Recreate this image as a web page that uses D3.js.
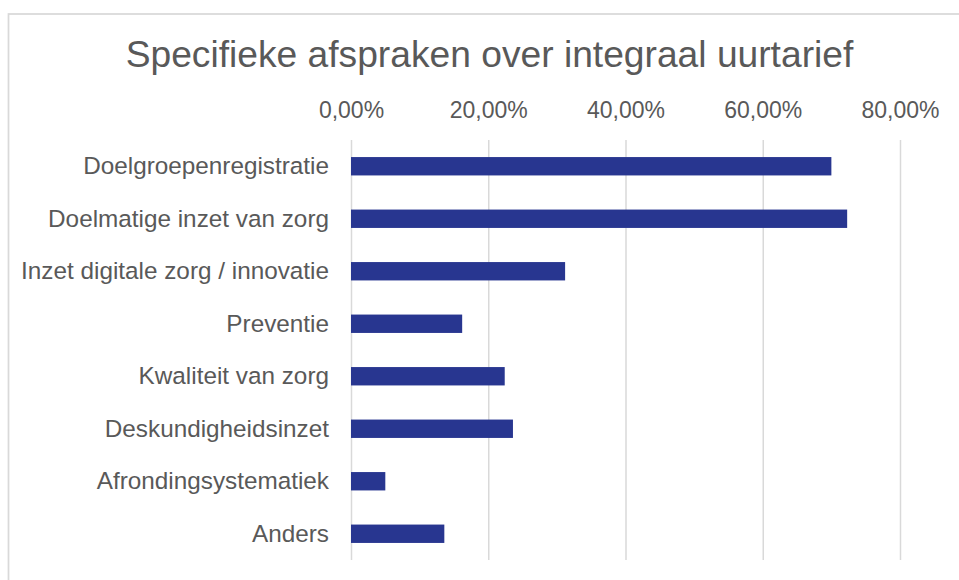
<!DOCTYPE html>
<html>
<head>
<meta charset="utf-8">
<script src="https://cdn.jsdelivr.net/npm/d3@7"></script>
<style>
    body { margin: 0; background: #fff; }
    svg { display: block; font-family: "Liberation Sans", Arial, sans-serif; }
</style>
</head>
<body>
<svg id="chart"></svg>
<script>
const chartTitle = 'Specifieke afspraken over integraal uurtarief';
const categories = [
    'Doelgroepenregistratie',
    'Doelmatige inzet van zorg',
    'Inzet digitale zorg / innovatie',
    'Preventie',
    'Kwaliteit van zorg',
    'Deskundigheidsinzet',
    'Afrondingsystematiek',
    'Anders'
];
const values = [0.700, 0.723, 0.312, 0.162, 0.224, 0.236, 0.050, 0.136];
const tickValues = [0, 0.2, 0.4, 0.6, 0.8];

const width = 959, height = 580;
const textColor = '#595959';
const gridColor = '#d9d9d9';
const barColor = '#283690';

const nl = d3.formatLocale({decimal: ',', thousands: '.', grouping: [3], currency: ['€', '']});
const pct = nl.format('.2%');

const svg = d3.select('#chart').attr('width', width).attr('height', height);

// chart area border (cut off at right/bottom like the source)
svg.append('rect')
    .attr('x', 8.5).attr('y', 14)
    .attr('width', 1000).attr('height', 1000)
    .attr('fill', '#fff')
    .attr('stroke', gridColor)
    .attr('stroke-width', 1.75);

const x = d3.scaleLinear().domain([0, 0.8]).range([351, 900]);
const y = d3.scaleBand().domain(categories).range([140, 560])
    .paddingInner(0.65).paddingOuter(0.325);

// title
svg.append('text')
    .attr('x', 489.5).attr('y', 67)
    .attr('text-anchor', 'middle')
    .attr('font-size', 37.2)
    .attr('fill', textColor)
    .text(chartTitle);

// top axis with gridlines
const xAxis = d3.axisTop(x).tickValues(tickValues).tickFormat(pct)
    .tickSize(-(560 - 140)).tickPadding(22);
const gx = svg.append('g').attr('transform', 'translate(0,140)').call(xAxis);
gx.select('.domain').remove();
gx.selectAll('.tick line').attr('stroke', gridColor).attr('stroke-width', 1.5);
gx.selectAll('.tick text')
    .attr('fill', textColor)
    .attr('font-size', 23)
    .attr('font-family', '"Liberation Sans", Arial, sans-serif');

// bars
svg.append('g').selectAll('rect')
    .data(values)
    .enter().append('rect')
    .attr('x', x(0))
    .attr('y', (d, i) => y(categories[i]))
    .attr('width', d => x(d) - x(0))
    .attr('height', y.bandwidth())
    .attr('fill', barColor);

// category labels
const yAxis = d3.axisLeft(y).tickSize(0).tickPadding(22);
const gy = svg.append('g').attr('transform', 'translate(351,0)').call(yAxis);
gy.select('.domain').remove();
gy.selectAll('.tick text')
    .attr('fill', textColor)
    .attr('font-size', 24.3)
    .attr('font-family', '"Liberation Sans", Arial, sans-serif');
</script>
</body>
</html>
